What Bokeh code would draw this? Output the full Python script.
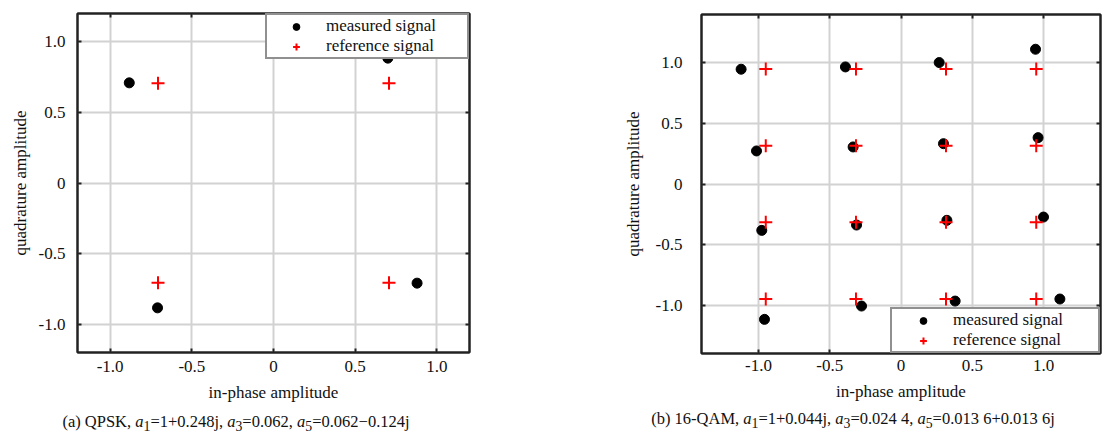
from bokeh.plotting import figure
from bokeh.models import Range1d, FixedTicker, LinearAxis, Legend, LegendItem, Div
from bokeh.layouts import row, column
from bokeh.embed import file_html
from bokeh.resources import INLINE

# ---------------- data ----------------
tick_values = [-1.0, -0.5, 0.0, 0.5, 1.0]
tick_labels = ["-1.0", "-0.5", "0", "0.5", "1.0"]

qpsk_ref_i = [-0.707, 0.707, -0.707, 0.707]
qpsk_ref_q = [0.707, 0.707, -0.707, -0.707]
qpsk_meas_i = [-0.883, 0.700, -0.710, 0.879]
qpsk_meas_q = [0.709, 0.884, -0.884, -0.709]

qam_ref_i = [-0.949, -0.316, 0.316, 0.949,
             -0.949, -0.316, 0.316, 0.949,
             -0.949, -0.316, 0.316, 0.949,
             -0.949, -0.316, 0.316, 0.949]
qam_ref_q = [0.949, 0.949, 0.949, 0.949,
             0.316, 0.316, 0.316, 0.316,
             -0.316, -0.316, -0.316, -0.316,
             -0.949, -0.949, -0.949, -0.949]
qam_meas_i = [-1.122, -0.390, 0.268, 0.944,
              -1.014, -0.336, 0.298, 0.962,
              -0.977, -0.312, 0.322, 1.000,
              -0.958, -0.277, 0.380, 1.115]
qam_meas_q = [0.948, 0.967, 1.003, 1.113,
              0.273, 0.306, 0.333, 0.383,
              -0.383, -0.339, -0.300, -0.273,
              -1.118, -1.008, -0.967, -0.950]

series_labels = ["measured signal", "reference signal"]
x_label = "in-phase amplitude"
y_label = "quadrature amplitude"
caption_a = ("(a) QPSK, <i>a</i><sub>1</sub>=1+0.248j, <i>a</i><sub>3</sub>=0.062, "
             "<i>a</i><sub>5</sub>=0.062\u22120.124j")
caption_b = ("(b) 16-QAM, <i>a</i><sub>1</sub>=1+0.044j, <i>a</i><sub>3</sub>=0.024 4, "
             "<i>a</i><sub>5</sub>=0.013 6+0.013 6j")

FONT = "Liberation Serif"
DARK = "#222222"
GRID = "#d2d2d2"
overrides = {v: t for v, t in zip(tick_values, tick_labels)}
blank = {v: "" for v in tick_values}


def style_axis(ax, show_labels=True, label_standoff=8, axis_label_standoff=6):
    ax.ticker = FixedTicker(ticks=tick_values)
    ax.major_tick_in = 4
    ax.major_tick_out = 0
    ax.major_tick_line_width = 2
    ax.major_tick_line_color = DARK
    ax.minor_tick_line_color = None
    ax.axis_line_color = DARK
    ax.axis_line_width = 2
    if show_labels:
        ax.major_label_overrides = overrides
        ax.major_label_text_font = FONT
        ax.major_label_text_font_size = "17px"
        ax.major_label_text_color = "#111111"
        ax.major_label_standoff = label_standoff
        ax.axis_label_text_font = FONT
        ax.axis_label_text_font_size = "17px"
        ax.axis_label_text_font_style = "normal"
        ax.axis_label_text_color = "#111111"
        ax.axis_label_standoff = axis_label_standoff
    else:
        ax.major_label_overrides = blank
        ax.major_label_text_font_size = "1px"
        ax.major_label_standoff = 0


def make_panel(rng, meas_i, meas_q, ref_i, ref_q, width, mb_left, mb_right,
               mb_top, mb_bottom, frame_w, frame_h, ystd, yastd, xstd, xastd,
               leg_loc, glyph_w, lab_std, lab_w):
    p = figure(width=width, frame_width=frame_w, frame_height=frame_h,
               x_range=Range1d(-rng, rng), y_range=Range1d(-rng, rng),
               output_backend="svg", toolbar_location=None,
               min_border_left=mb_left, min_border_right=mb_right,
               min_border_top=mb_top, min_border_bottom=mb_bottom,
               background_fill_color="white", border_fill_color="white")
    p.outline_line_color = DARK
    p.outline_line_width = 2
    p.xgrid.grid_line_color = GRID
    p.ygrid.grid_line_color = GRID
    p.xgrid.grid_line_width = 2
    p.ygrid.grid_line_width = 2
    p.xgrid.ticker = FixedTicker(ticks=tick_values)
    p.ygrid.ticker = FixedTicker(ticks=tick_values)

    p.xaxis.axis_label = x_label
    p.yaxis.axis_label = y_label
    style_axis(p.xaxis[0], True, xstd, xastd)
    style_axis(p.yaxis[0], True, ystd, yastd)

    top = LinearAxis()
    style_axis(top, False)
    p.add_layout(top, "above")
    right = LinearAxis()
    style_axis(right, False)
    p.add_layout(right, "right")

    r_meas = p.scatter(meas_i, meas_q, marker="circle", size=10,
                       fill_color="black", line_color="black")
    r_ref = p.scatter(ref_i, ref_q, marker="cross", size=13,
                      line_color="#ff0000", line_width=2)

    leg = Legend(items=[LegendItem(label=series_labels[0], renderers=[r_meas]),
                        LegendItem(label=series_labels[1], renderers=[r_ref])],
                 location=leg_loc, margin=0, padding=1, spacing=0,
                 glyph_width=glyph_w, glyph_height=17, label_height=17,
                 label_standoff=lab_std, label_width=lab_w,
                 label_text_font=FONT, label_text_font_size="17px",
                 label_text_color="#111111",
                 border_line_color=DARK, border_line_width=2,
                 background_fill_color="white", background_fill_alpha=1.0)
    p.add_layout(leg)
    return p


p1 = make_panel(1.2, qpsk_meas_i, qpsk_meas_q, qpsk_ref_i, qpsk_ref_q,
                width=613, mb_left=77, mb_right=144, mb_top=13, mb_bottom=53,
                frame_w=392, frame_h=339, ystd=12, yastd=6, xstd=8, xastd=8,
                leg_loc="top_right", glyph_w=56, lab_std=2, lab_w=140)
p2 = make_panel(1.4, qam_meas_i, qam_meas_q, qam_ref_i, qam_ref_q,
                width=492, mb_left=88, mb_right=5, mb_top=14, mb_bottom=52,
                frame_w=399, frame_h=339, ystd=19, yastd=10, xstd=6, xastd=8,
                leg_loc="bottom_right", glyph_w=60, lab_std=0, lab_w=144)

d1 = Div(text=caption_a, width=472, height=26, margin=(0, 0, 0, 0),
         styles={"font-family": FONT, "font-size": "16.5px", "color": "#111111",
                 "text-align": "center", "padding-top": "5px",
                 "display": "block"})
d2 = Div(text=caption_b, width=480, height=26, margin=(0, 0, 0, 0),
         styles={"font-family": FONT, "font-size": "16.5px", "color": "#111111",
                 "text-align": "center", "padding-top": "2px",
                 "display": "block"})

layout = row(column(p1, d1, spacing=0), column(p2, d2, spacing=0), spacing=0)

open("out.html", "w").write(file_html(layout, INLINE))
